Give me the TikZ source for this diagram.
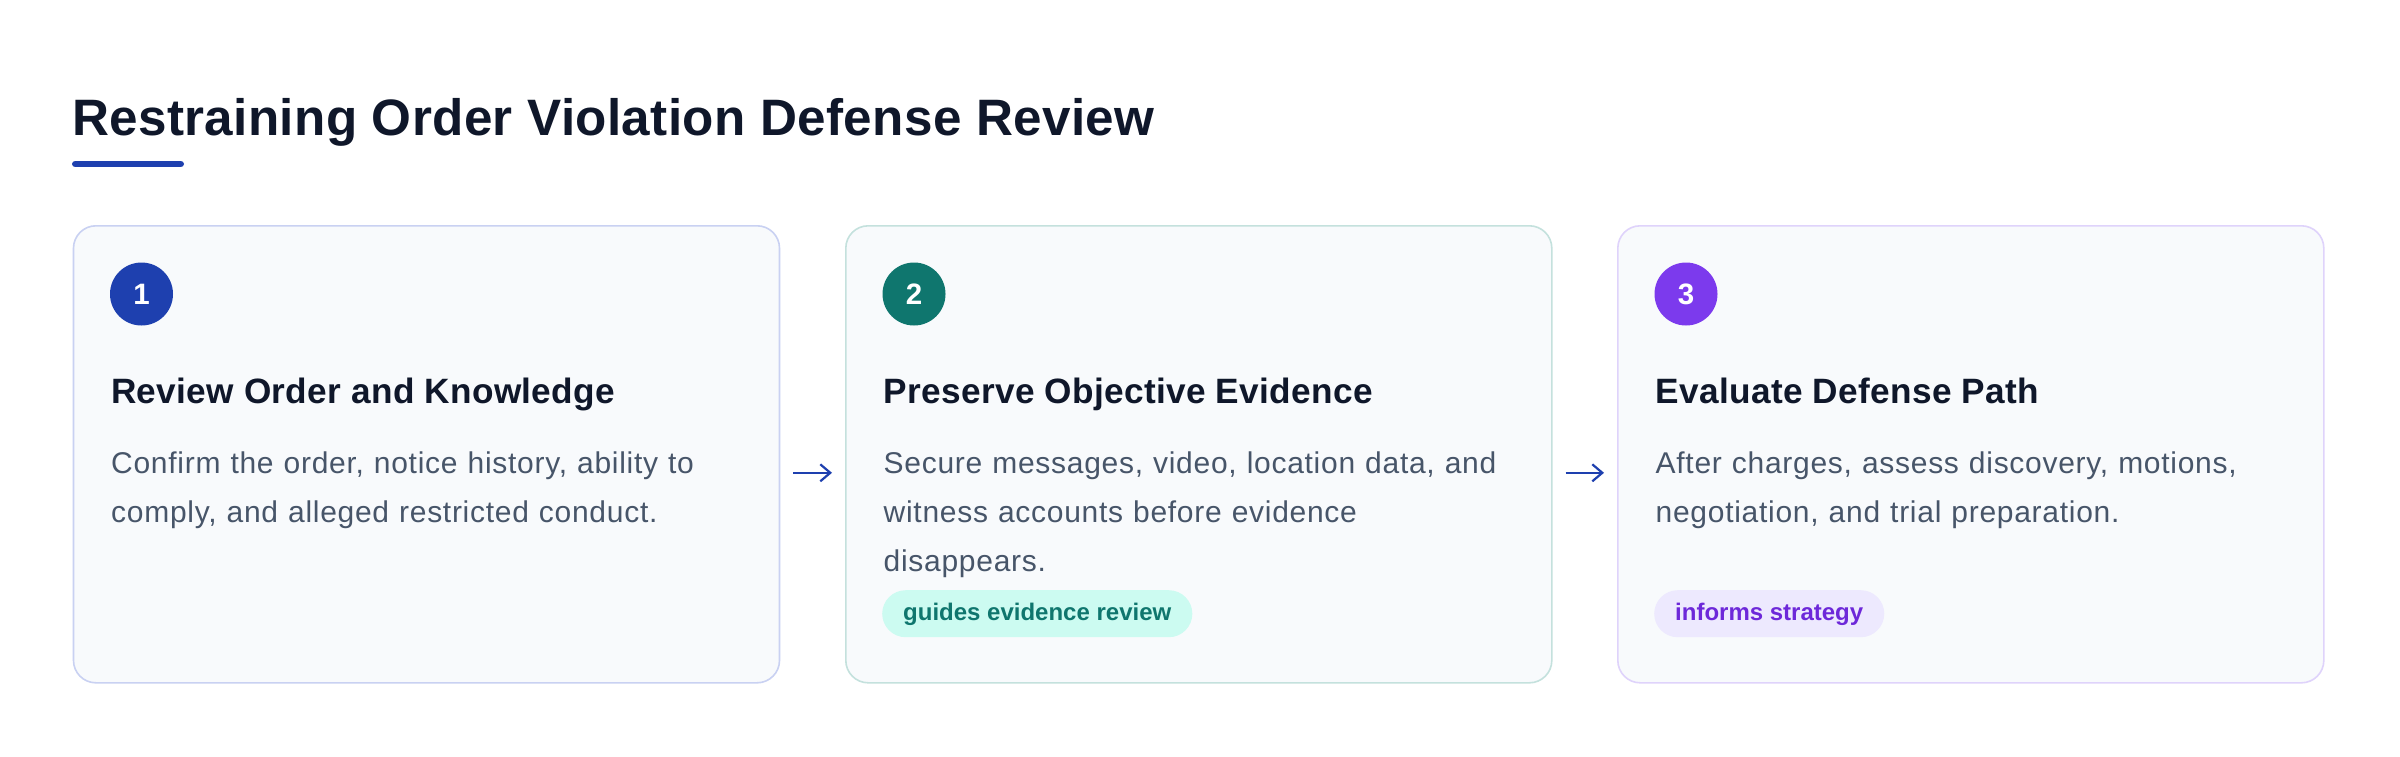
\documentclass[tikz,border=0pt]{standalone}
\usepackage{fontspec}
\setmainfont{Liberation Sans}
\newfontfamily\titlefont[LetterSpace=0.7]{Liberation Sans}
\newfontfamily\headfont[LetterSpace=0.9]{Liberation Sans}
\newfontfamily\bodyfont[LetterSpace=2.4]{Liberation Sans}
\usetikzlibrary{arrows.meta,calc}
\definecolor{titlec}{HTML}{0F172A}
\definecolor{accent}{HTML}{1E40AF}
\definecolor{cardfill}{HTML}{F8FAFC}
\definecolor{bordA}{HTML}{C9D1F2}
\definecolor{bordB}{HTML}{C4E1DD}
\definecolor{bordC}{HTML}{DFD3FB}
\definecolor{numA}{HTML}{1E40AF}
\definecolor{numB}{HTML}{0F766E}
\definecolor{numC}{HTML}{7C3AED}
\definecolor{bodyc}{HTML}{475569}
\definecolor{pillBfill}{HTML}{CCFBF1}
\definecolor{pillBtext}{HTML}{0F766E}
\definecolor{pillCfill}{HTML}{EDE9FE}
\definecolor{pillCtext}{HTML}{6D28D9}
\tikzset{
  card/.style={draw=#1, fill=cardfill, line width=1.6pt, rounded corners=22.4pt,
    minimum width=706pt, minimum height=457pt, anchor=north west, inner sep=0pt},
  numdot/.style={circle, fill=#1, minimum size=63pt, inner sep=0pt, text=white,
    font=\fontsize{29.5}{32}\selectfont\bfseries},
  heading/.style={anchor=base west, inner sep=0pt, text=titlec,
    font=\headfont\fontsize{35.2}{40}\selectfont\bfseries},
  bodytext/.style={anchor=base west, inner sep=0pt, text=bodyc, text width=650pt, align=left,
    font=\bodyfont\fontsize{30}{49}\selectfont},
  pill/.style={anchor=north west, fill=#1, rounded corners=23.5pt, minimum height=47pt,
    inner xsep=21pt, inner ysep=0pt, text height=18pt, text depth=5pt,
    font=\fontsize{24}{28}\selectfont\bfseries},
  flowarrow/.style={draw=accent, line width=2.2pt, shorten <=13pt, shorten >=13pt,
    -{Straight Barb[length=10pt,width=17pt]}}
}
\begin{document}
\begin{tikzpicture}[x=1pt,y=-1pt]
\path[use as bounding box, fill=white] (0,0) rectangle (2400,756);
\node[anchor=base west, inner sep=0pt, text=titlec, font=\titlefont\fontsize{51.2}{60}\selectfont\bfseries]
  (title) at (72,135) {Restraining Order Violation Defense Review};
\draw[accent, line width=6.4pt, line cap=round] (75.2,164) coordinate (ul1) -- (180.8,164) coordinate (ul2);

\node[card=bordA] (b1) at (72.7,225) {};
\node[card=bordB] (b2) at (845,225) {};
\node[card=bordC] (b3) at (1617,225) {};

\node[numdot=numA] (n1) at (141.5,294) {1};
\node[numdot=numB] (n2) at (914,294) {2};
\node[numdot=numC] (n3) at (1686,294) {3};

\node[heading] (h1) at (111,403) {Review Order and Knowledge};
\node[heading] (h2) at (883.5,403) {Preserve Objective Evidence};
\node[heading] (h3) at (1655.5,403) {Evaluate Defense Path};

\node[bodytext] (t1) at (111,473) {Confirm the order, notice history, ability to\\comply, and alleged restricted conduct.};
\node[bodytext] (t2) at (883.5,473) {Secure messages, video, location data, and\\witness accounts before evidence\\disappears.};
\node[bodytext] (t3) at (1655.5,473) {After charges, assess discovery, motions,\\negotiation, and trial preparation.};

\node[pill=pillBfill, text=pillBtext] (p2) at (882,590) {guides evidence review};
\node[pill=pillCfill, text=pillCtext] (p3) at (1654,590) {informs strategy};

\draw[flowarrow] ($(b1.east)+(0,18.5)$) coordinate (a1s) -- ($(b2.west)+(0,18.5)$) coordinate (a1e);
\draw[flowarrow] ($(b2.east)+(0,18.5)$) coordinate (a2s) -- ($(b3.west)+(0,18.5)$) coordinate (a2e);
\end{tikzpicture}
\end{document}
